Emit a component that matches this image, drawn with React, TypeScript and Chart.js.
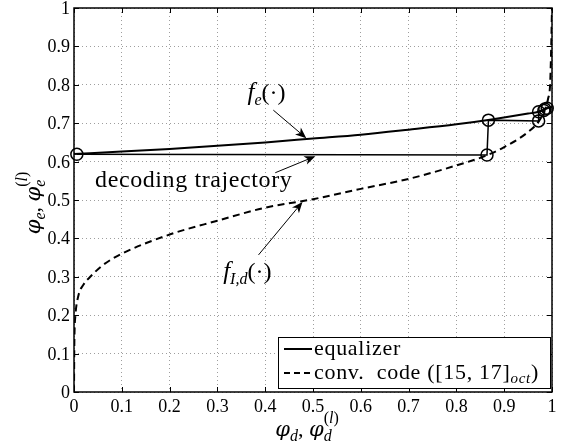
import React, { useEffect, useRef } from "react";
import { Chart, registerables } from "chart.js";

Chart.register(...registerables);

// ---------- data ----------
const tickValues = [0, 0.1, 0.2, 0.3, 0.4, 0.5, 0.6, 0.7, 0.8, 0.9, 1];
const xTickLabels = ["0", "0.1", "0.2", "0.3", "0.4", "0.5", "0.6", "0.7", "0.8", "0.9", "1"];
const yTickLabels = ["0", "0.1", "0.2", "0.3", "0.4", "0.5", "0.6", "0.7", "0.8", "0.9", "1"];

const equalizerX = [0, 0.1, 0.2, 0.3, 0.4, 0.5, 0.6, 0.7, 0.8, 0.87, 0.95, 0.972, 0.99, 1.0];
const equalizerY = [0.62, 0.626, 0.633, 0.641, 0.65, 0.66, 0.67, 0.683, 0.697, 0.709, 0.725, 0.73, 0.739, 0.743];

const codeX = [0, 0.0005, 0.001, 0.003, 0.009, 0.02, 0.034, 0.06, 0.1, 0.2, 0.3, 0.4, 0.5, 0.6, 0.7, 0.8, 0.865, 0.9, 0.95, 0.973, 0.985, 0.992, 0.996, 0.998, 1.0];
const codeY = [0, 0.1, 0.15, 0.2, 0.25, 0.28, 0.3, 0.33, 0.36, 0.41, 0.446, 0.48, 0.502, 0.529, 0.555, 0.59, 0.617, 0.638, 0.677, 0.706, 0.735, 0.765, 0.8, 0.88, 1.0];

const trajX = [0.006, 0.864, 0.867, 0.972, 0.972, 0.983, 0.985, 0.99];
const trajY = [0.619, 0.617, 0.708, 0.706, 0.73, 0.733, 0.737, 0.739];

const seriesNames = ["equalizer", "conv.  code ([15, 17]", "oct", ")"];
const annotationText = ["decoding trajectory"];

// annotation anchors (data coordinates)
const feLabel = { x: 0.363, y: 0.781 };
const feArrow = { x0: 0.417, y0: 0.734, x1: 0.486, y1: 0.661 };
const trajLabel = { x: 0.044, y: 0.534 };
const trajArrow = { x0: 0.421, y0: 0.571, x1: 0.505, y1: 0.614 };
const fidLabel = { x: 0.312, y: 0.294 };
const fidArrow = { x0: 0.386, y0: 0.357, x1: 0.478, y1: 0.495 };

// ---------- drawing helpers ----------
const SERIF = '"Liberation Serif", "Times New Roman", serif';
const GREEK = '"DejaVu Serif", serif';
const fnt = (size: number, italic = false) => `${italic ? "italic " : ""}${size}px ${SERIF}`;
const gfnt = (size: number) => `italic ${size}px ${GREEK}`;

type Seg = { t: string; font: string; dy?: number };
type Stack = { sub: Seg[]; sup: Seg[] };
type Item = Seg | Stack;

function segW(ctx: CanvasRenderingContext2D, s: Seg) {
  ctx.font = s.font;
  return ctx.measureText(s.t).width;
}
function seqW(ctx: CanvasRenderingContext2D, seq: Seg[]) {
  return seq.reduce((a, s) => a + segW(ctx, s), 0);
}
function itemW(ctx: CanvasRenderingContext2D, it: Item) {
  return "sub" in it ? Math.max(seqW(ctx, it.sub), seqW(ctx, it.sup)) : segW(ctx, it);
}
function drawSeq(ctx: CanvasRenderingContext2D, seq: Seg[], x: number, y: number) {
  for (const s of seq) {
    ctx.font = s.font;
    ctx.fillText(s.t, x, y + (s.dy || 0));
    x += ctx.measureText(s.t).width;
  }
}
function drawItems(ctx: CanvasRenderingContext2D, items: Item[], x: number, y: number, align: "left" | "center") {
  const total = items.reduce((a, it) => a + itemW(ctx, it), 0);
  let cx = align === "center" ? x - total / 2 : x;
  ctx.textAlign = "left";
  ctx.textBaseline = "alphabetic";
  for (const it of items) {
    const w = itemW(ctx, it);
    if ("sub" in it) {
      drawSeq(ctx, it.sub, cx, y);
      drawSeq(ctx, it.sup, cx, y);
    } else {
      drawSeq(ctx, [it], cx, y);
    }
    cx += w;
  }
}
function arrow(ctx: CanvasRenderingContext2D, x0: number, y0: number, x1: number, y1: number) {
  const ang = Math.atan2(y1 - y0, x1 - x0);
  const L = 11, W = 4.5, N = 3;
  ctx.save();
  ctx.strokeStyle = "#000";
  ctx.fillStyle = "#000";
  ctx.lineWidth = 1;
  ctx.beginPath();
  ctx.moveTo(x0, y0);
  ctx.lineTo(x1 - Math.cos(ang) * (L - N), y1 - Math.sin(ang) * (L - N));
  ctx.stroke();
  ctx.translate(x1, y1);
  ctx.rotate(ang);
  ctx.beginPath();
  ctx.moveTo(0, 0);
  ctx.lineTo(-L, -W);
  ctx.lineTo(-L + N, 0);
  ctx.lineTo(-L, W);
  ctx.closePath();
  ctx.fill();
  ctx.restore();
}

function phiLabel(sub: string): Item[] {
  const supDy = -13;
  return [
    { t: "φ", font: gfnt(21) },
    { t: sub, font: fnt(16, true), dy: 5 },
    { t: ", ", font: fnt(22) },
    { t: "φ", font: gfnt(21) },
    {
      sub: [{ t: sub, font: fnt(16, true), dy: 5 }],
      sup: [
        { t: "(", font: fnt(16), dy: supDy },
        { t: "l", font: fnt(16, true), dy: supDy },
        { t: ")", font: fnt(16), dy: supDy },
      ],
    },
  ];
}

const decorPlugin = {
  id: "decor",
  afterDatasetsDraw(chart: any) {
    const ctx: CanvasRenderingContext2D = chart.ctx;
    const { left, right, top, bottom } = chart.chartArea;
    const xs = chart.scales.x;
    const ys = chart.scales.y;
    const px = (v: number) => xs.getPixelForValue(v);
    const py = (v: number) => ys.getPixelForValue(v);
    ctx.save();
    ctx.fillStyle = "#000";
    ctx.strokeStyle = "#000";

    // inward tick marks
    ctx.lineWidth = 1;
    ctx.beginPath();
    for (const v of tickValues) {
      const x = Math.round(px(v)) + 0.5;
      ctx.moveTo(x, bottom);
      ctx.lineTo(x, bottom - 5);
      ctx.moveTo(x, top);
      ctx.lineTo(x, top + 5);
      const y = Math.round(py(v)) + 0.5;
      ctx.moveTo(left, y);
      ctx.lineTo(left + 5, y);
      ctx.moveTo(right, y);
      ctx.lineTo(right - 5, y);
    }
    ctx.stroke();

    // frame
    ctx.lineWidth = 1.5;
    ctx.strokeRect(left, top, right - left, bottom - top);

    // tick labels
    ctx.font = fnt(18);
    ctx.textBaseline = "alphabetic";
    ctx.textAlign = "center";
    tickValues.forEach((v, i) => ctx.fillText(xTickLabels[i], px(v), bottom + 20));
    ctx.textAlign = "right";
    tickValues.forEach((v, i) => ctx.fillText(yTickLabels[i], left - 4, py(v) + 6));

    // axis titles
    drawItems(ctx, phiLabel("d"), (left + right) / 2 - 6, bottom + 44, "center");
    ctx.save();
    ctx.translate(left - 34, (top + bottom) / 2 + 3);
    ctx.rotate(-Math.PI / 2);
    drawItems(ctx, phiLabel("e"), 0, 0, "center");
    ctx.restore();

    // annotations
    drawItems(
      ctx,
      [
        { t: "f", font: fnt(25, true) },
        { t: "e", font: fnt(16, true), dy: 5 },
        { t: "(·)", font: fnt(24) },
      ],
      px(feLabel.x),
      py(feLabel.y) + 8,
      "left"
    );
    arrow(ctx, px(feArrow.x0), py(feArrow.y0), px(feArrow.x1), py(feArrow.y1));

    ctx.save();
    (ctx as any).letterSpacing = "0.6px";
    ctx.font = fnt(24);
    ctx.textAlign = "left";
    ctx.fillText(annotationText[0], px(trajLabel.x), py(trajLabel.y));
    ctx.restore();
    arrow(ctx, px(trajArrow.x0), py(trajArrow.y0), px(trajArrow.x1), py(trajArrow.y1));

    drawItems(
      ctx,
      [
        { t: "f", font: fnt(25, true) },
        { t: "I,d", font: fnt(16, true), dy: 5 },
        { t: "(·)", font: fnt(24) },
      ],
      px(fidLabel.x),
      py(fidLabel.y),
      "left"
    );
    arrow(ctx, px(fidArrow.x0), py(fidArrow.y0), px(fidArrow.x1), py(fidArrow.y1));

    // legend
    const lw = 272, lh = 51;
    const lx = right - 2 - lw, ly = bottom - 4 - lh;
    ctx.fillStyle = "#fff";
    ctx.fillRect(lx, ly, lw, lh);
    ctx.strokeStyle = "#000";
    ctx.lineWidth = 1;
    ctx.strokeRect(lx + 0.5, ly + 0.5, lw, lh);
    ctx.fillStyle = "#000";
    ctx.lineWidth = 2;
    ctx.beginPath();
    ctx.moveTo(lx + 6, ly + 12);
    ctx.lineTo(lx + 34, ly + 12);
    ctx.stroke();
    ctx.setLineDash([6, 4]);
    ctx.beginPath();
    ctx.moveTo(lx + 6, ly + 36);
    ctx.lineTo(lx + 34, ly + 36);
    ctx.stroke();
    ctx.setLineDash([]);
    ctx.save();
    (ctx as any).letterSpacing = "0.7px";
    drawItems(ctx, [{ t: seriesNames[0], font: fnt(22) }], lx + 36, ly + 18, "left");
    drawItems(
      ctx,
      [
        { t: seriesNames[1], font: fnt(22) },
        { t: seriesNames[2], font: fnt(15, true), dy: 4 },
        { t: seriesNames[3], font: fnt(22) },
      ],
      lx + 36,
      ly + 42,
      "left"
    );
    ctx.restore();
    ctx.restore();
  },
};

export default function App() {
  const ref = useRef<HTMLCanvasElement | null>(null);
  useEffect(() => {
    document.body.style.margin = "0";
    const canvas = ref.current;
    if (!canvas) return;
    const chart = new Chart(canvas, {
      type: "line",
      data: {
        datasets: [
          {
            label: "equalizer",
            data: equalizerX.map((x, i) => ({ x, y: equalizerY[i] })),
            borderColor: "#000",
            borderWidth: 2,
            pointRadius: 0,
            cubicInterpolationMode: "monotone",
            fill: false,
          },
          {
            label: "conv. code",
            data: codeX.map((x, i) => ({ x, y: codeY[i] })),
            borderColor: "#000",
            borderWidth: 2,
            borderDash: [7, 4.5],
            pointRadius: 0,
            cubicInterpolationMode: "monotone",
            fill: false,
          },
          {
            label: "decoding trajectory",
            data: trajX.map((x, i) => ({ x, y: trajY[i] })),
            borderColor: "#000",
            borderWidth: 1.5,
            tension: 0,
            pointRadius: 6,
            pointStyle: "circle",
            pointBorderColor: "#000",
            pointBackgroundColor: "rgba(0,0,0,0)",
            pointBorderWidth: 1.5,
            fill: false,
            clip: false,
          },
        ],
      } as any,
      options: {
        animation: false,
        responsive: false,
        maintainAspectRatio: false,
        layout: { padding: { left: 74, right: 9, top: 8, bottom: 56 } },
        plugins: { legend: { display: false }, tooltip: { enabled: false } },
        events: [],
        scales: {
          x: {
            type: "linear",
            min: 0,
            max: 1,
            ticks: { display: false, stepSize: 0.1 },
            grid: { color: "rgba(0,0,0,0.38)", lineWidth: 1, drawTicks: false },
            border: { display: false, dash: [1, 3] },
          },
          y: {
            type: "linear",
            min: 0,
            max: 1,
            ticks: { display: false, stepSize: 0.1 },
            grid: { color: "rgba(0,0,0,0.38)", lineWidth: 1, drawTicks: false },
            border: { display: false, dash: [1, 3] },
          },
        },
      } as any,
      plugins: [decorPlugin],
    });
    return () => chart.destroy();
  }, []);
  return (
    <div style={{ position: "fixed", left: 0, top: 0, width: 561, height: 448, background: "#fff" }}>
      <canvas ref={ref} width={561} height={448} style={{ width: 561, height: 448, display: "block" }} />
    </div>
  );
}
